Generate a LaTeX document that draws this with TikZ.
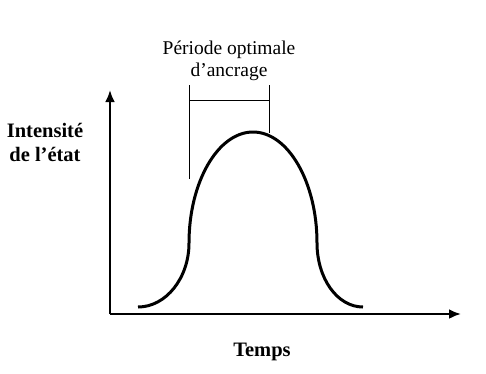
\documentclass[tikz,border=0pt]{standalone}
\usepackage{fontspec}
\setmainfont{Liberation Serif}
\usetikzlibrary{arrows.meta}

\begin{document}
\begin{tikzpicture}[x=1pt,y=-1pt]
      \tikzset{axis/.style = {line width=2.6pt,-{Latex[length=12pt,width=10pt]}}}
      \tikzset{curve/.style = {line width=3pt}}
      \tikzset{bracket/.style = {line width=1pt}}
      \tikzset{title/.style = {font=\bfseries\fontsize{20.5}{24}\selectfont,align=center}}
      \tikzset{note/.style = {font=\fontsize{19.5}{22}\selectfont,align=center}}
      \useasboundingbox (0,0) rectangle (486,373);

      % axes
      \coordinate (O) at (110,314);
      \coordinate (ytop) at (110,90);
      \coordinate (xend) at (461,314);
      \draw[axis] (O) -- (ytop);
      \draw[axis] (O) -- (xend);

      \node[title] (intensite) at (45,142) {Intensité\\de l’état};
      \node[title] (temps) at (262,352) {Temps};

      % courbe
      \draw[curve] (138,307) .. controls (166,307) and (189,278) .. (189,243)
            .. controls (189,182) and (218,132) .. (253,132)
            .. controls (288,132) and (317,182) .. (317,243)
            .. controls (317,278) and (337,307) .. (363,307);

      % periode optimale
      \coordinate (b1) at (189,85);
      \coordinate (b2) at (189,179);
      \coordinate (b3) at (269,85);
      \coordinate (b4) at (269,133);
      \coordinate (h1) at (189,100);
      \coordinate (h2) at (269,100);
      \draw[bracket] (b1) -- (b2);
      \draw[bracket] (b3) -- (b4);
      \draw[bracket] (h1) -- (h2);
      \node[note] (periode) at (229,61) {Période optimale\\d’ancrage};
    \end{tikzpicture}
\end{document}
